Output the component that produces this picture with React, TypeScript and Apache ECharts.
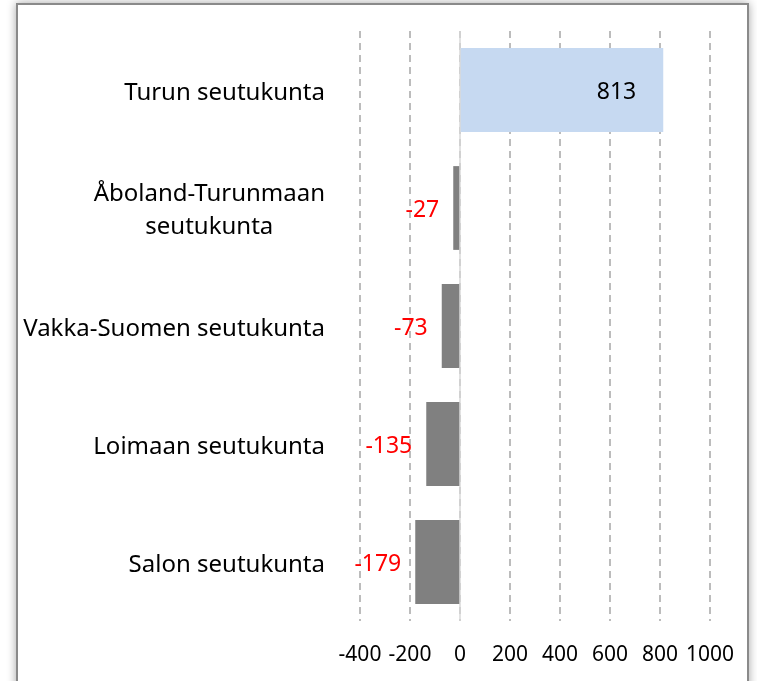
import React, { useEffect, useRef } from "react";
import * as echarts from "echarts";

const categories = [
  "Turun seutukunta",
  "Åboland-Turunmaan\nseutukunta",
  "Vakka-Suomen seutukunta",
  "Loimaan seutukunta",
  "Salon seutukunta",
];
const values = [813, -27, -73, -135, -179];
const xMin = -400;
const xMax = 1000;
const xInterval = 200;

const FONT = "Noto Sans";

export default function App() {
  const ref = useRef<HTMLDivElement>(null);
  useEffect(() => {
    if (!ref.current) return;
    const chart = echarts.init(ref.current, null, { renderer: "svg" });
    const data = values.map((v) => ({
      value: v,
      itemStyle: { color: v >= 0 ? "#c6d9f1" : "#808080" },
      label: v >= 0
        ? { position: "insideRight", distance: 27, color: "#000" }
        : { position: "left", distance: 14, color: "#ff0000" },
    }));
    chart.setOption({
      animation: false,
      textStyle: { fontFamily: FONT },
      graphic: [
        {
          type: "rect",
          z: -10,
          shape: { x: 17, y: 4, width: 731, height: 700 },
          style: {
            fill: "#fff",
            stroke: "#8a8a8a",
            lineWidth: 2,
            shadowBlur: 10,
            shadowColor: "rgba(0,0,0,0.35)",
          },
          silent: true,
        },
      ],
      grid: { left: 360, right: 47, top: 31, bottom: 60 },
      xAxis: {
        type: "value",
        min: xMin,
        max: xMax,
        interval: xInterval,
        axisLine: { show: false },
        axisTick: { show: false },
        axisLabel: {
          fontSize: 21,
          color: "#000",
          fontFamily: FONT,
          margin: 21,
          formatter: (v: number) => String(v),
        },
        splitLine: {
          show: true,
          lineStyle: { type: [7, 5], color: "#a6a6a6", width: 1.5 },
        },
      },
      yAxis: {
        type: "category",
        inverse: true,
        data: categories,
        axisLine: { show: false },
        axisTick: { show: false },
        axisLabel: {
          fontSize: 24,
          color: "#000",
          fontFamily: FONT,
          margin: 35,
          align: "right",
          lineHeight: 33,
          formatter: (v: string) =>
            v.includes("\n")
              ? v.split("\n").map((l) => `{c|${l}}`).join("\n")
              : v,
          rich: {
            c: {
              fontSize: 24,
              fontFamily: FONT,
              color: "#000",
              lineHeight: 33,
              align: "center",
            },
          },
        },
      },
      series: [
        {
          type: "bar",
          data,
          barCategoryGap: "29%",
          label: { show: true, fontSize: 23, fontFamily: FONT },
          markLine: {
            silent: true,
            symbol: "none",
            label: { show: false },
            lineStyle: { type: "solid", color: "#d9d9d9", width: 1.5 },
            data: [{ xAxis: 0 }],
          },
        },
      ],
    });
    return () => chart.dispose();
  }, []);
  return (
    <div
      ref={ref}
      style={{ position: "fixed", left: 0, top: 0, width: 757, height: 681 }}
    />
  );
}
